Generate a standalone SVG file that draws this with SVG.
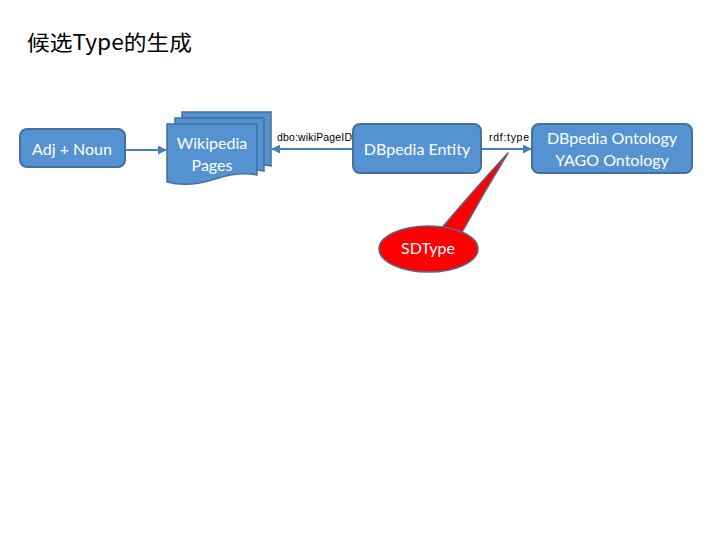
<svg xmlns="http://www.w3.org/2000/svg" width="720" height="540" viewBox="0 0 720 540">
<defs>
<style>
.box{fill:#5592d2;stroke:#41719c;stroke-width:2}
.doc{fill:#5592d2;stroke:#41719c;stroke-width:1.5}
.t{font-family:Lato,"Liberation Sans",sans-serif;font-size:16px;fill:#ffffff;text-anchor:middle}
.lbl{font-family:"Liberation Sans",Arial,sans-serif;font-size:10.5px;fill:#000000}
.con{stroke:#4a7ebb;stroke-width:2;fill:none}
</style>
<marker id="ah" viewBox="0 0 10 10" refX="9" refY="5" markerWidth="4.5" markerHeight="4.5" orient="auto-start-reverse" markerUnits="strokeWidth">
<path d="M0,0 L10,5 L0,10 z" fill="#4a7ebb"/>
</marker>
</defs>
<rect width="720" height="540" fill="#ffffff"/>
<text x="27" y="50" font-family="'Noto Sans CJK SC',sans-serif" font-size="21" fill="#000000" textLength="165" lengthAdjust="spacingAndGlyphs">候选Type的生成</text>
<g id="connectors">
<line class="con" x1="126" y1="150" x2="166" y2="150" marker-end="url(#ah)"/>
<line class="con" x1="352" y1="149" x2="272" y2="149" marker-end="url(#ah)"/>
<line class="con" x1="482" y1="149" x2="531" y2="149" marker-end="url(#ah)"/>
<text class="lbl" x="277" y="141" textLength="75">dbo:wikiPageID</text>
<text class="lbl" x="489" y="141" textLength="40">rdf:type</text>
</g>
<g id="adj-noun">
<rect class="box" x="20" y="129" width="105" height="38" rx="7"/>
<text class="t" x="72" y="155">Adj + Noun</text>
</g>
<g id="wikipedia-pages">
<path class="doc" d="M182,112 H271 V166 C258,163 246,165 232,170 C220,174 200,175 182,171 Z"/>
<path class="doc" d="M175,118 H264 V171 C251,168 239,170 225,175 C213,179 193,180 175,177 Z"/>
<path class="doc" d="M167,124 H257 V175 C243,172 230,174 215,179 C200,184 182,186 167,182 Z"/>
<text class="t" x="212" y="149">Wikipedia</text>
<text class="t" x="212" y="171">Pages</text>
</g>
<g id="dbpedia-entity">
<rect class="box" x="353" y="124" width="128" height="49" rx="7"/>
<text class="t" x="417" y="155">DBpedia Entity</text>
</g>
<g id="ontology">
<rect class="box" x="532" y="124" width="160" height="49" rx="7"/>
<text class="t" x="612" y="144">DBpedia Ontology</text>
<text class="t" x="612" y="166">YAGO Ontology</text>
</g>
<g id="sdtype">
<path d="M440,230 Q472,192 508,153 Q484,192 461,234 Z" fill="#ff0000" stroke="#5a6482" stroke-width="1.5" stroke-linejoin="round"/>
<ellipse cx="428.5" cy="249" rx="49.5" ry="23" fill="#ff0000" stroke="#5a6482" stroke-width="1.5"/>
<path d="M441,229.5 L460,233.5" stroke="#ff0000" stroke-width="2.5" fill="none"/>
<text class="t" x="428" y="254">SDType</text>
</g>
</svg>
